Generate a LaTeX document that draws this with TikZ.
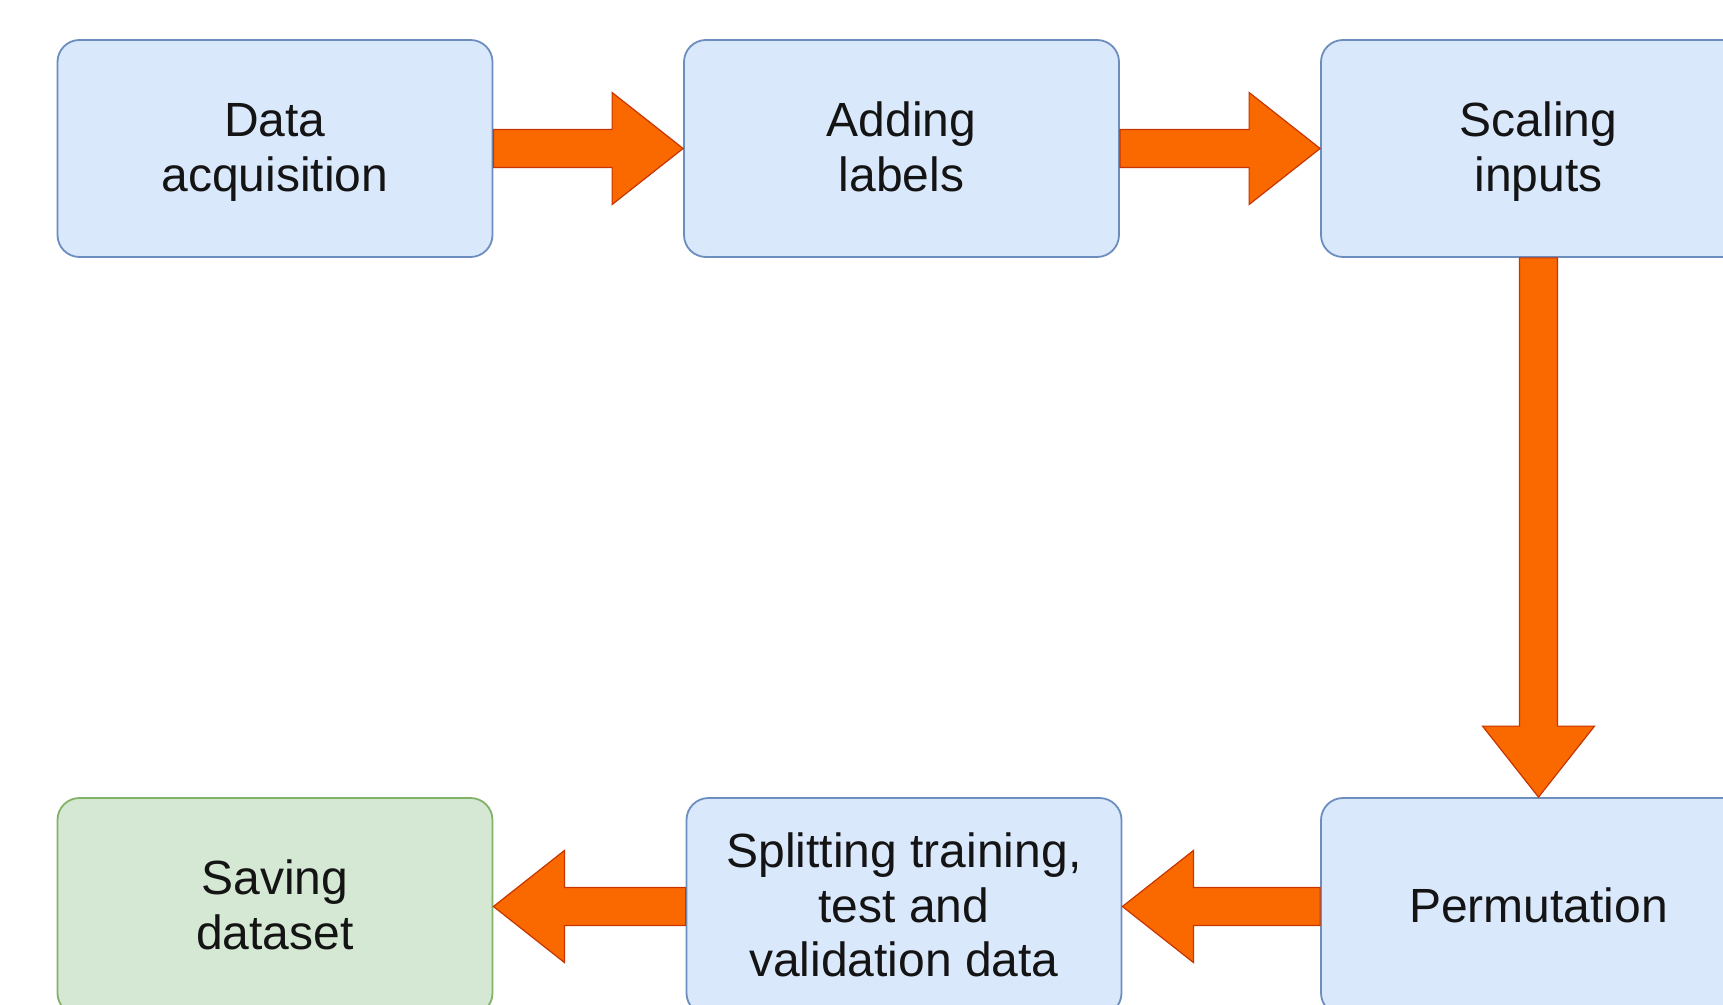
\documentclass[tikz,border=0pt]{standalone}
\usepackage{fontspec}
\setmainfont{Liberation Sans}
\usetikzlibrary{calc}
\definecolor{bfill}{HTML}{DAE8FC}
\definecolor{bdraw}{HTML}{6C8EBF}
\definecolor{gfill}{HTML}{D5E8D4}
\definecolor{gdraw}{HTML}{82B366}
\definecolor{afill}{HTML}{FA6800}
\definecolor{adraw}{HTML}{C73500}
\definecolor{txt}{HTML}{141414}
\newcommand{\tstrut}{\rule{0pt}{\dimexpr0.7\baselineskip+4.7pt\relax}}
\tikzset{
  stepbox/.style={draw=bdraw, fill=bfill, line width=0.9pt, rounded corners=11pt,
    minimum width=217.5pt, minimum height=108.5pt, inner sep=0pt, align=center,
    text=txt, font=\fontsize{24}{27.3}\selectfont},
  savebox/.style={stepbox, draw=gdraw, fill=gfill},
  fatarr/.style={draw=adraw, fill=afill, line width=0.6pt, line join=miter}
}
\newcommand{\fatarrow}[2]{%
  \path (#1) coordinate (fs) (#2) coordinate (fe);
  \path ($(fe)!35.5pt!(fs)$) coordinate (fh);
  \draw[fatarr] ($(fs)!9.5pt!90:(fe)$) -- ($(fh)!9.5pt!-90:(fs)$) -- ($(fh)!28pt!-90:(fs)$)
    -- (fe) -- ($(fh)!28pt!90:(fs)$) -- ($(fh)!9.5pt!90:(fs)$) -- ($(fs)!9.5pt!-90:(fe)$) -- cycle;
}
\begin{document}
\begin{tikzpicture}[x=0.5pt, y=-0.5pt]
\clip (0,0) rectangle (1723,1005);
\fill[white] (0,0) rectangle (1723,1005);
\node[stepbox] (b1) at (275,148.5) {\tstrut Data\\\strut acquisition};
\node[stepbox] (b2) at (901.5,148.5) {\tstrut Adding\\\strut labels};
\node[stepbox] (b3) at (1538.5,148.5) {\tstrut Scaling\\\strut inputs};
\node[savebox] (b4) at (275,906.5) {\tstrut Saving\\\strut dataset};
\node[stepbox] (b5) at (904,906.5) {\tstrut Splitting training,\\\strut test and\\\strut validation data};
\node[stepbox] (b6) at (1538.5,906.5) {\tstrut Permutation\strut};
\fatarrow{b1.east}{b2.west}
\fatarrow{b2.east}{b3.west}
\fatarrow{b3.south}{b6.north}
\fatarrow{b6.west}{b5.east}
\fatarrow{b5.west}{b4.east}
\end{tikzpicture}
\end{document}
